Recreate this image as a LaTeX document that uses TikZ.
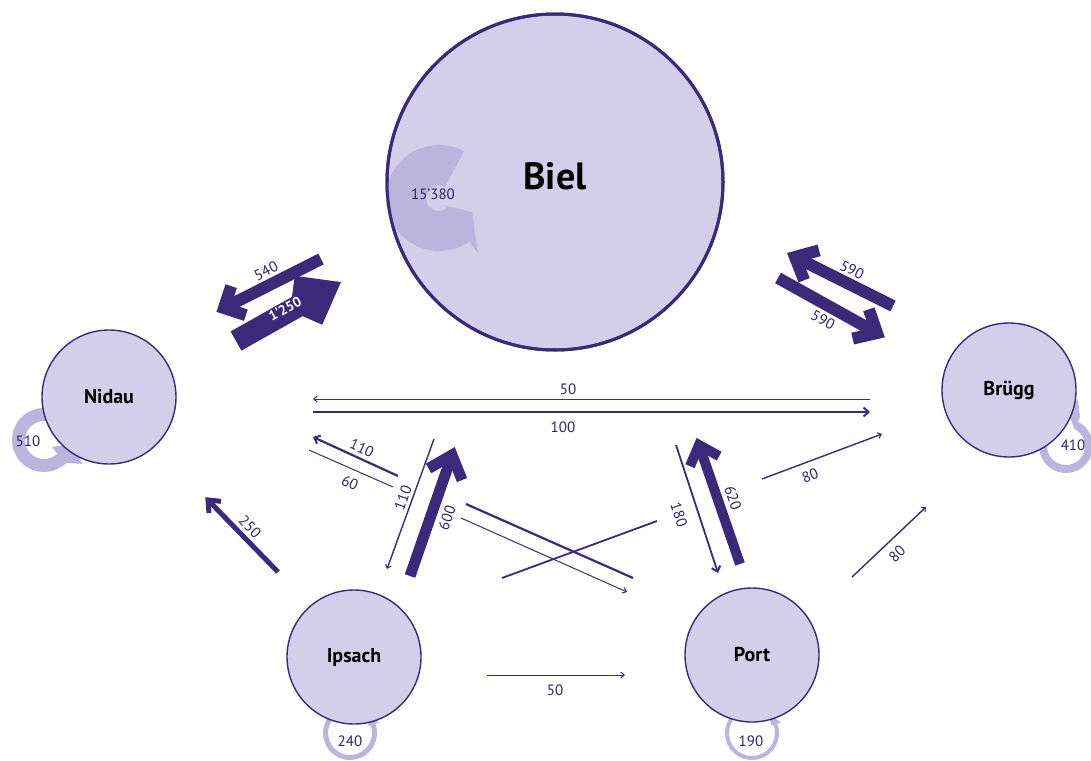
\documentclass[tikz,border=0pt]{standalone}
\usepackage{fontspec}
\setmainfont{PT Sans}
\usetikzlibrary{arrows.meta,calc}
\definecolor{dk}{HTML}{3B2A7A}
\definecolor{fillc}{HTML}{D3CFEA}
\definecolor{loopc}{HTML}{BBB5DE}
\definecolor{numc}{HTML}{2E2568}
% ring-shaped self loop: centre, start, end, inner r, outer r, head inner r, head outer r, tip angle, tip r
\newcommand\loopring[9]{%
  \fill[loopc] ($(#1)+(#2:#5)$) arc[start angle=#2,end angle=#3,radius=#5]
    -- ($(#1)+(#3:#7)$) -- ($(#1)+(#8:#9)$) -- ($(#1)+(#3:#6)$) -- ($(#1)+(#3:#4)$)
    arc[start angle=#3,end angle=#2,radius=#4] -- cycle;}
% broad arrow: tail, tip, width, barb length, barb angle
\newcommand\bandarrow[5]{%
  \draw[band,line width=#3] (#1) -- (#2);
  \draw[band,line width=#3,line join=miter] ($(#2)!#4!#5:(#1)$) -- (#2) -- ($(#2)!#4!-#5:(#1)$);}
\begin{document}
\begin{tikzpicture}[x=1pt,y=1pt,
  town/.style={circle,fill=fillc,draw=dk,line width=1.4pt,font=\bfseries\fontsize{20}{21}\selectfont,text=black,inner sep=0pt},
  num/.style={text=numc,font=\fontsize{15}{16}\selectfont,inner sep=1pt},
  band/.style={draw=dk,line cap=butt},
  fine/.style={draw=dk,line width=1pt,-{Straight Barb[length=3.5pt,width=6pt,line width=1pt]}},
  mid/.style={draw=dk,line width=2pt,-{Straight Barb[length=5pt,width=9pt,line width=2pt]}},
]
\useasboundingbox (0,0) rectangle (1091,-760);
\fill[white] (0,0) rectangle (1091,-760);

% loop centres
\coordinate (nl) at (44,-440);
\coordinate (bgl) at (1066,-446);
\coordinate (il) at (350,-733);
\coordinate (pl) at (752,-733);
\coordinate (bl) at (439,-198);

% Nidau loop
\fill[loopc] ($(nl)+(40:32)$) arc[start angle=40,end angle=314,radius=32]
  -- ($(nl)+(328:45)$) -- ($(nl)+(352:29)$) -- ($(nl)+(319:10.6)$) -- ($(nl)+(314:19)$)
  arc[start angle=314,end angle=40,radius=19] -- cycle;
% Bruegg loop
\fill[loopc] ($(bgl)+(160:27)$) arc[start angle=160,end angle=424,radius=27]
  -- ($(bgl)+(424:32)$) -- ($(bgl)+(436:48.5)$) -- ($(bgl)+(448:33)$) -- ($(bgl)+(436:24.7)$) -- ($(bgl)+(424:19)$)
  arc[start angle=424,end angle=160,radius=19] -- cycle;
\loopring{il}{115}{380}{22}{27}{20}{31}{410}{25}
\loopring{pl}{115}{380}{23}{27}{21}{31}{410}{25}

% towns
\node[town,minimum size=336pt,line width=3pt] (biel) at (555,-182) {};
\loopring{bl}{62}{305}{13}{53}{9}{68}{337}{36}
\draw[dk,line width=3pt] (biel.center) circle[radius=168];
\node[font=\bfseries\fontsize{38}{40}\selectfont] (bieltext) at (555,-176) {Biel};
\node[town,minimum size=134pt] (nidau) at (109,-397) {Nidau};
\node[town,minimum size=134pt] (brugg) at (1009,-390) {Brügg};
\node[town,minimum size=134pt] (ipsach) at (354,-657) {Ipsach};
\node[town,minimum size=134pt] (port) at (752,-655) {Port};

% loop labels
\node[num] (n510) at (28,-441) {510};
\node[num] (n410) at (1073,-445) {410};
\node[num] (n240) at (350,-741) {240};
\node[num] (n190) at (751,-741) {190};
\node[num] (n15380) at (433,-194) {15’380};

% broad arrows
\coordinate (t540) at (321,-259);  \coordinate (h540) at (224,-308);
\coordinate (t1250) at (236,-341); \coordinate (h1250) at (325,-291);
\coordinate (t590a) at (893,-306); \coordinate (h590a) at (795,-257);
\coordinate (t590b) at (778,-278); \coordinate (h590b) at (877,-333);
\coordinate (t600) at (410,-576);  \coordinate (h600) at (452,-455);
\coordinate (t620) at (740,-564);  \coordinate (h620) at (699,-445);
\coordinate (t250) at (278,-572);  \coordinate (h250) at (208,-500);
\bandarrow{t540}{h540}{12pt}{23pt}{45}
\bandarrow{t1250}{h1250}{22pt}{32pt}{37}
\bandarrow{t590a}{h590a}{12pt}{25pt}{42}
\bandarrow{t590b}{h590b}{12pt}{25pt}{42}
\bandarrow{t600}{h600}{11pt}{27pt}{41}
\bandarrow{t620}{h620}{10pt}{23pt}{42}
\bandarrow{t250}{h250}{5pt}{13pt}{40}

% thin connectors
\coordinate (a50s) at (870,-399); \coordinate (a50e) at (313,-399);
\coordinate (a100s) at (313,-412); \coordinate (a100e) at (870,-412);
\coordinate (p110s) at (633,-578); \coordinate (p110m) at (466,-504);
\coordinate (p110n) at (398,-476); \coordinate (p110e) at (313,-437);
\coordinate (n60s) at (309,-450); \coordinate (n60m) at (393,-487);
\coordinate (n60n) at (461,-518); \coordinate (n60e) at (627,-592);
\coordinate (b110s) at (434,-439); \coordinate (b110e) at (387,-569);
\coordinate (b180s) at (676,-445); \coordinate (b180e) at (718,-573);
\coordinate (i80s) at (502,-578); \coordinate (i80m) at (657,-521);
\coordinate (i80n) at (762,-479); \coordinate (i80e) at (882,-434);
\coordinate (p80s) at (852,-577); \coordinate (p80e) at (926,-507);
\coordinate (i50s) at (487,-675); \coordinate (i50e) at (625,-675);

\draw[fine] (a50s) -- (a50e);
\draw[mid] (a100s) -- (a100e);
\draw[dk,line width=2.2pt] (p110s) -- (p110m);
\draw[mid,line width=2.2pt] (p110n) -- (p110e);
\draw[dk,line width=1pt] (n60s) -- (n60m);
\draw[fine] (n60n) -- (n60e);
\draw[fine,line width=1.4pt] (b110s) -- (b110e);
\draw[mid,line width=1.8pt] (b180s) -- (b180e);
\draw[dk,line width=1.8pt] (i80s) -- (i80m);
\draw[fine,line width=1.4pt] (i80n) -- (i80e);
\draw[fine,line width=1.4pt] (p80s) -- (p80e);
\draw[fine] (i50s) -- (i50e);

% flow labels
\node[num,rotate=27] (l540) at (266,-271) {540};
\node[num,text=white,font=\bfseries\fontsize{14}{15}\selectfont,rotate=28] (l1250) at (285,-309) {1’250};
\node[num,rotate=-27] (l590a) at (852,-270) {590};
\node[num,rotate=-29] (l590b) at (823,-320) {590};
\node[num] (l50a) at (568,-389) {50};
\node[num] (l100) at (563,-427) {100};
\node[num,rotate=-25] (l110a) at (362,-448) {110};
\node[num,rotate=-24] (l60) at (350,-483) {60};
\node[num,rotate=70] (l110b) at (403,-498) {110};
\node[num,rotate=71] (l600) at (447,-518) {600};
\node[num,rotate=-71] (l620) at (733,-498) {620};
\node[num,rotate=-72] (l180) at (679,-515) {180};
\node[num,rotate=21] (l80a) at (810,-476) {80};
\node[num,rotate=44] (l80b) at (897,-554) {80};
\node[num,rotate=-46] (l250) at (250,-527) {250};
\node[num] (l50b) at (555,-690) {50};
\end{tikzpicture}
\end{document}
